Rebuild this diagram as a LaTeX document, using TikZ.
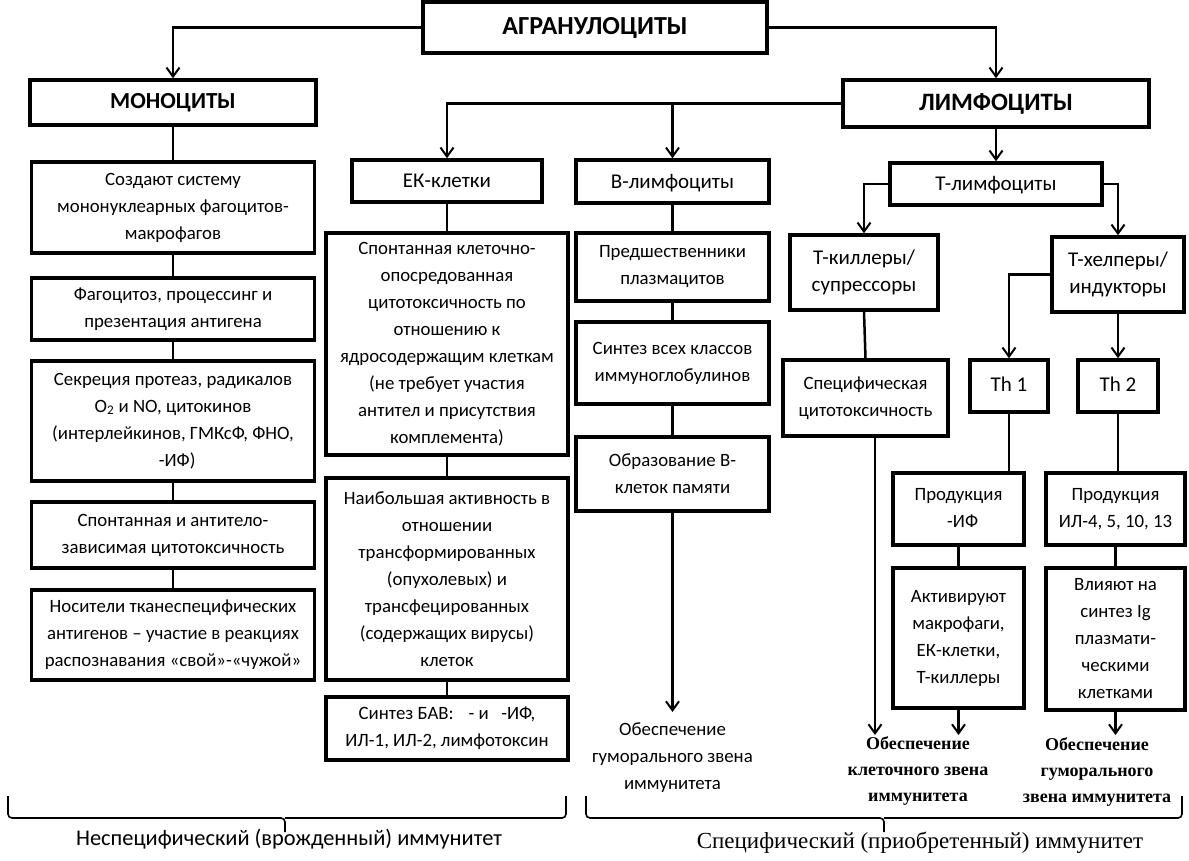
\documentclass[tikz,border=0pt]{standalone}
\usepackage{fontspec}
\setmainfont{Carlito}
\newfontfamily\serifcyr{Liberation Serif}
\usetikzlibrary{arrows.meta}
\begin{document}
\begin{tikzpicture}[x=1pt,y=-1pt,
  box/.style={draw, line width=3.5pt, align=center, inner sep=0.5pt, font=\fontsize{18.8}{27}\selectfont},
  hbox/.style={box, font=\fontsize{21}{27}\selectfont},
  tbox/.style={box, font=\bfseries\fontsize{23}{26}\selectfont},
  oneline/.style={text height=13.6pt, text depth=0pt},
  ln/.style={line width=2.5pt},
  arr/.style={line width=2.5pt, -{Straight Barb[length=9pt,width=13pt,line width=2pt]}},
  brc/.style={line width=1.6pt, rounded corners=4pt},
  lbl/.style={align=center, inner sep=0pt, font=\fontsize{18.8}{27}\selectfont},
  slbl/.style={align=center, inner sep=0pt, font=\serifcyr\bfseries\fontsize{18}{26}\selectfont},
]
\useasboundingbox (0,0) rectangle (1189,861);

% top level
\node[tbox, minimum width=344pt, minimum height=51pt, font=\bfseries\fontsize{26}{28}\selectfont] (agr) at (595,27.5) {АГРАНУЛОЦИТЫ};
\node[tbox, minimum width=286pt, minimum height=45pt] (mono) at (173,102.5) {МОНОЦИТЫ};
\node[tbox, minimum width=306pt, minimum height=47pt, font=\bfseries\fontsize{25}{28}\selectfont] (lym) at (996,103.5) {ЛИМФОЦИТЫ};

% monocytes
\node[box, minimum width=283pt, minimum height=91pt] (m1) at (173,207.5) {Создают систему\\ мононуклеарных фагоцитов-\\ макрофагов};
\node[box, minimum width=283pt, minimum height=62pt] (m2) at (173,309) {Фагоцитоз, процессинг и\\ презентация антигена};
\node[box, minimum width=283pt, minimum height=120pt] (m3) at (173,421) {Секреция протеаз, радикалов\\ O\textsubscript{2} и NO, цитокинов\\ (интерлейкинов, ГМКсФ, ФНО,\\ \phantom{γ}-ИФ)};
\node[box, minimum width=283pt, minimum height=66pt] (m4) at (173,535) {Спонтанная и антитело-\\ зависимая цитотоксичность};
\node[box, minimum width=283pt, minimum height=90pt] (m5) at (173,635) {Носители тканеспецифических\\ антигенов -- участие в реакциях\\ распознавания «свой»-«чужой»};

% EK cells
\node[hbox, oneline, minimum width=190pt, minimum height=42pt] (ek) at (447,181) {ЕК-клетки};
\node[box, minimum width=242pt, minimum height=222pt] (ek1) at (447,344) {Спонтанная клеточно-\\ опосредованная\\ цитотоксичность по\\ отношению к\\ ядросодержащим клеткам\\ (не требует участия\\ антител и присутствия\\ комплемента)};
\node[box, minimum width=242pt, minimum height=202pt] (ek2) at (447,579) {Наибольшая активность в\\ отношении\\ трансформированных\\ (опухолевых) и\\ трансфецированных\\ (содержащих вирусы)\\ клеток};
\node[box, minimum width=242pt, minimum height=63pt] (ek3) at (447,728.5) {Синтез БАВ: \phantom{α}- и \phantom{γ}-ИФ,\\ ИЛ-1, ИЛ-2, лимфотоксин};

% B lymphocytes
\node[hbox, oneline, minimum width=193pt, minimum height=43pt] (b) at (672.5,181.5) {В-лимфоциты};
\node[box, minimum width=193pt, minimum height=68pt] (b1) at (672.5,267) {Предшественники\\ плазмацитов};
\node[box, minimum width=193pt, minimum height=82pt] (b2) at (672.5,363) {Синтез всех классов\\ иммуноглобулинов};
\node[box, minimum width=193pt, minimum height=74pt] (b3) at (672.5,474) {Образование В-\\ клеток памяти};
\coordinate (bend) at (672.5,712);
\node[lbl] (bt) at (672.5,758) {Обеспечение\\ гуморального звена\\ иммунитета};

% T lymphocytes
\node[hbox, oneline, minimum width=212pt, minimum height=42pt] (tl) at (996,184) {Т-лимфоциты};
\node[hbox, minimum width=148pt, minimum height=75pt] (tk) at (864,272.5) {Т-киллеры/\\ супрессоры};
\node[hbox, minimum width=132pt, minimum height=75pt] (th) at (1118,274.5) {Т-хелперы/\\ индукторы};
\node[box, minimum width=165pt, minimum height=76pt] (spec) at (865.5,398) {Специфическая\\ цитотоксичность};
\node[hbox, minimum width=78pt, minimum height=52pt] (th1) at (1009,386) {\raisebox{3pt}{Th 1}};
\node[hbox, minimum width=80pt, minimum height=52pt] (th2) at (1118,386) {\raisebox{3pt}{Th 2}};
\node[box, minimum width=131pt, minimum height=72pt] (p1) at (958.5,509) {Продукция\\ \phantom{γ}-ИФ};
\node[box, minimum width=139pt, minimum height=72pt] (p2) at (1115.5,509) {Продукция\\ ИЛ-4, 5, 10, 13};
\node[box, minimum width=131pt, minimum height=140pt] (a1) at (958.5,638) {Активируют\\ макрофаги,\\ ЕК-клетки,\\ Т-киллеры};
\node[box, minimum width=139pt, minimum height=142pt] (a2) at (1115.5,639) {Влияют на\\ синтез Ig\\ плазмати-\\ ческими\\ клетками};
\coordinate (ce) at (875,735);
\coordinate (c1) at (958.5,735);
\coordinate (c2) at (1115.5,735);
\node[slbl] (ct) at (918,771) {Обеспечение\\ клеточного звена\\ иммунитета};
\node[slbl] (ht) at (1097,772) {Обеспечение\\ гуморального\\ звена иммунитета};

% connectors
\draw[arr] (agr.west) -| (mono.north);
\draw[arr] (agr.east) -| (lym.north);
\draw[arr] (lym.west) -| (ek.north);
\draw[arr] (lym.west -| b.north) -- (b.north);
\draw[arr] (lym.south) -- (tl.north);

\draw[ln] (mono.south) -- (m1.north);
\draw[ln] (m1.south) -- (m2.north);
\draw[ln] (m2.south) -- (m3.north);
\draw[ln] (m3.south) -- (m4.north);
\draw[ln] (m4.south) -- (m5.north);

\draw[ln] (ek.south) -- (ek1.north);
\draw[ln] (ek1.south) -- (ek2.north);
\draw[ln] (ek2.south) -- (ek3.north);

\draw[ln] (b.south) -- (b1.north);
\draw[ln] (b1.south) -- (b2.north);
\draw[ln] (b2.south) -- (b3.north);
\draw[arr] (b3.south) -- (bend);

\draw[arr] (tl.west) -| (tk.north);
\draw[arr] (tl.east) -| (th.north);
\draw[ln] (tk.south) -- (spec.north);
\draw[arr] (th.west) -| (th1.north);
\draw[arr] (th.south) -- (th2.north);
\draw[ln] (th1.south) -- (th1.south |- p1.north);
\draw[ln] (th2.south) -- (th2.south |- p2.north);
\draw[ln] (p1.south) -- (a1.north);
\draw[ln] (p2.south) -- (a2.north);
\draw[arr] (spec.south -| ce) -- (ce);
\draw[arr] (a1.south) -- (c1);
\draw[arr] (a2.south) -- (c2);

% braces
\draw[brc] (8,796) |- (285,818) -- (285,832);
\draw[brc] (285,818) -| (566,796);
\draw[brc] (586,796) |- (884,818) -- (884,832);
\draw[brc] (884,818) -| (1182,796);
\node[inner sep=0pt, font=\fontsize{22.4}{24}\selectfont] (nsp) at (289,839) {Неспецифический (врожденный) иммунитет};
\node[inner sep=0pt, font=\serifcyr\fontsize{23}{24}\selectfont] (spc) at (920,843) {Специфический (приобретенный) иммунитет};
\end{tikzpicture}
\end{document}
